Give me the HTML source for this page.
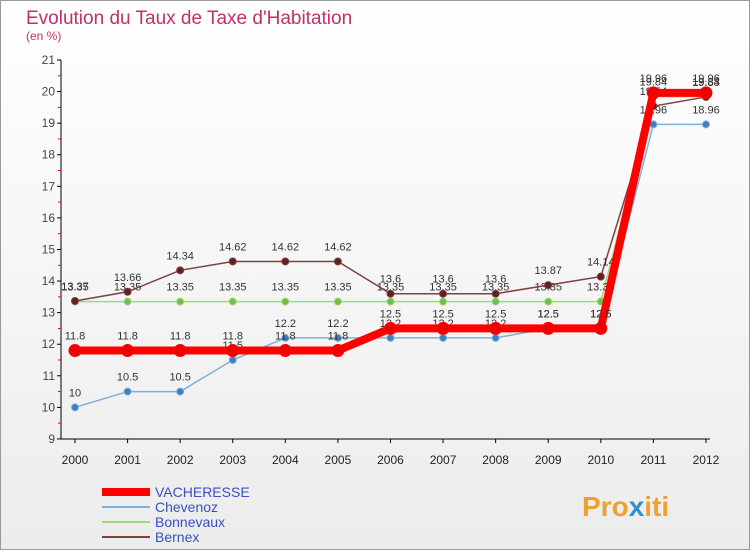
<!DOCTYPE html>
<html><head><meta charset="utf-8"><style>
html,body{margin:0;padding:0}
body{width:750px;height:550px;overflow:hidden;font-family:"Liberation Sans",sans-serif}
svg{display:block}
</style></head><body>
<svg id="chart" width="750" height="550" xmlns="http://www.w3.org/2000/svg">
<defs><linearGradient id="bg" x1="0" y1="0" x2="0" y2="1"><stop offset="0" stop-color="#ffffff"/><stop offset="1" stop-color="#ececec"/></linearGradient></defs>
<rect x="0.5" y="0.5" width="749" height="549" fill="url(#bg)" stroke="#999"/>
<text x="26" y="24" font-size="19" fill="#c0306a">Evolution du Taux de Taxe d'Habitation</text>
<text x="26" y="40" font-size="12" fill="#c0306a">(en %)</text>
<g id="axes"></g>
<g id="series"></g>
<g id="legend"></g>
<text x="582" y="516" font-size="28" font-weight="bold" fill="#f0a030">Pro<tspan fill="#3090d0">x</tspan>iti</text>
</svg>
<script>
const years=[2000,2001,2002,2003,2004,2005,2006,2007,2008,2009,2010,2011,2012];
const yTicks=[9,10,11,12,13,14,15,16,17,18,19,20,21];
const vacheresse=[11.8,11.8,11.8,11.8,11.8,11.8,12.5,12.5,12.5,12.5,12.5,19.96,19.96];
const chevenoz=[10,10.5,10.5,11.5,12.2,12.2,12.2,12.2,12.2,12.5,12.5,18.96,18.96];
const bonnevaux=[13.35,13.35,13.35,13.35,13.35,13.35,13.35,13.35,13.35,13.35,13.35,19.84,19.84];
const bernex=[13.37,13.66,14.34,14.62,14.62,14.62,13.6,13.6,13.6,13.87,14.14,19.54,19.83];
const seriesNames=["VACHERESSE","Chevenoz","Bonnevaux","Bernex"];
const NS="http://www.w3.org/2000/svg";
const X=i=>75+i*52.58, Y=v=>60+(21-v)*31.58;
function mk(t,a,p){const e=document.createElementNS(NS,t);for(const k in a)e.setAttribute(k,a[k]);p.appendChild(e);return e;}
const ax=document.getElementById('axes');
let l=mk('line',{x1:61,y1:60,x2:61,y2:439,stroke:'#000'},ax);


l=mk('line',{x1:61,y1:439,x2:710,y2:439,stroke:'#000'},ax);


yTicks.forEach(v=>{const y=Y(v);
 mk('line',{x1:57,y1:y,x2:61,y2:y,stroke:'#000'},ax);
 if(v<21)mk('line',{x1:58,y1:y-15.8,x2:61,y2:y-15.8,stroke:'red'},ax);
 const t=mk('text',{x:55,y:y+4,'font-size':12,fill:'#444','text-anchor':'end'},ax);t.textContent=v;
 
 
});
years.forEach((yr,i)=>{const x=X(i);
 mk('line',{x1:x,y1:439,x2:x,y2:443,stroke:'#000'},ax);
 const t=mk('text',{x:x,y:464,'font-size':12,fill:'#222','text-anchor':'middle'},ax);t.textContent=yr;
 
 
});
const sg=document.getElementById('series');
function draw(data,name,color,w,r,dot){
 const g=mk('g',{},sg);
 
 
 mk('polyline',{points:data.map((v,i)=>X(i)+','+Y(v)).join(' '),fill:'none',stroke:color,'stroke-width':w},g);
 data.forEach((v,i)=>{const c=mk('circle',{cx:X(i),cy:Y(v),r:r,fill:dot,stroke:color,'stroke-width':1},g);
  
  
  const t=mk('text',{x:X(i),y:Y(v)-11,'font-size':11,fill:'#333','text-anchor':'middle'},g);t.textContent=v;
  
  
 });
}
draw(chevenoz,'chevenoz','#80b0d8',1.5,3.5,'#3a80c0');
draw(bonnevaux,'bonnevaux','#a0d880',1.5,3.5,'#70c040');
draw(bernex,'bernex','#804040',1.5,3.5,'#602020');
draw(vacheresse,'vacheresse','#ff0000',8,6,'#ee0000');
const lg=document.getElementById('legend');
const cols=['#ff0000','#80b0d8','#a0d880','#804040'],ws=[8,2,2,2];
seriesNames.forEach((n,i)=>{const y=492+i*15;
 const g=mk('g',{},lg);
 
 
 mk('line',{x1:102,y1:y,x2:150,y2:y,stroke:cols[i],'stroke-width':ws[i]},g);
 const t=mk('text',{x:155,y:y+5,'font-size':14,fill:'#3a50c0'},g);t.textContent=n;
});
</script>
</body></html>
